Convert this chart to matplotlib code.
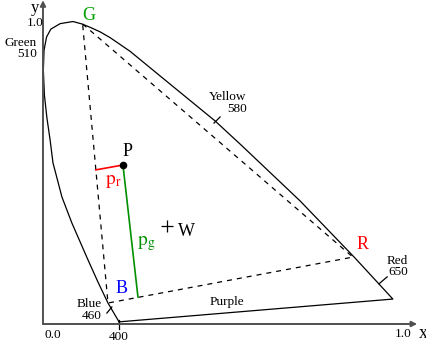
import matplotlib
matplotlib.use('Agg')
import matplotlib.pyplot as plt

plt.rcParams['font.family'] = ['Liberation Serif', 'DejaVu Serif']
plt.rcParams['mathtext.fontset'] = 'stix'

# spectral locus (schematic), from 400 nm round to the red end
locus_x = [0.213, 0.182, 0.154, 0.126, 0.081, 0.053, 0.028, 0.020, 0.011, 0.004,
           0.001, 0.003, 0.010, 0.022, 0.048, 0.084, 0.109, 0.132, 0.160, 0.188,
           0.244, 0.328, 0.482, 0.552, 0.720, 0.874, 0.980]
locus_y = [0.007, 0.069, 0.138, 0.211, 0.332, 0.418, 0.530, 0.605, 0.678, 0.753,
           0.836, 0.901, 0.944, 0.970, 0.988, 0.995, 0.987, 0.976, 0.961, 0.942,
           0.897, 0.816, 0.668, 0.592, 0.405, 0.217, 0.082]

# primaries triangle
prim_names = ['G', 'R', 'B']
prim_x = [0.111, 0.868, 0.182]
prim_y = [0.987, 0.220, 0.069]
prim_colors = ['#00a000', '#ff0000', '#0000ff']

# point P and its projections
p_x, p_y = 0.224, 0.523
pr_foot = (0.148, 0.507)
pg_foot = (0.266, 0.089)
white = (0.348, 0.322)

# wavelength labels: text, tick start, tick end, label position
wl_text = ['Blue\n460', 'Yellow\n580', 'Red\n650', 'Green\n510']
wl_tick0 = [(0.193, 0.056), (0.479, 0.661), (0.941, 0.132), None]
wl_tick1 = [(0.179, 0.036), (0.496, 0.681), (0.964, 0.155), None]
wl_pos = [(0.130, 0.046), (0.518, 0.727), (0.992, 0.188), (-0.062, 0.905)]


def main():
    fig = plt.figure(figsize=(4.27, 3.47), dpi=100)
    ax = fig.add_axes([0, 0, 1, 1])
    ax.set_xlim(-0.1204, 1.0756)
    ax.set_ylim(-0.0757, 1.0658)
    ax.axis('off')

    # axes with arrows
    axis_col = '#505050'
    ax.annotate('', xy=(1.048, 0), xytext=(0, 0),
                arrowprops=dict(arrowstyle='-|>', color=axis_col, lw=1.4,
                                mutation_scale=8, shrinkA=0, shrinkB=0))
    ax.annotate('', xy=(0, 1.065), xytext=(0, 0),
                arrowprops=dict(arrowstyle='-|>', color=axis_col, lw=1.4,
                                mutation_scale=8, shrinkA=0, shrinkB=0))

    # locus and purple line
    ax.plot(locus_x + locus_x[:1], locus_y + locus_y[:1], color='black', lw=0.9)
    ax.plot([locus_x[0], locus_x[0]], [0.013, -0.016], color='black', lw=0.9)

    # dashed triangle
    tx = prim_x + prim_x[:1]
    ty = prim_y + prim_y[:1]
    ax.plot(tx, ty, color='black', lw=0.9, linestyle=(0, (4, 4)))

    # P projections
    ax.plot([p_x, pr_foot[0]], [p_y, pr_foot[1]], color='#ff0000', lw=1.2)
    ax.plot([p_x, pg_foot[0]], [p_y, pg_foot[1]], color='#009000', lw=1.2)
    ax.plot([p_x], [p_y], 'o', color='black', ms=4.5)
    ax.plot([white[0]], [white[1]], '+', color='black', ms=8, mew=0.9)

    # labels
    big = 13
    ax.text(0.129, 1.016, 'G', color=prim_colors[0], fontsize=big, ha='center', va='center')
    ax.text(0.894, 0.260, 'R', color=prim_colors[1], fontsize=big, ha='center', va='center')
    ax.text(0.221, 0.118, 'B', color=prim_colors[2], fontsize=big, ha='center', va='center')
    ax.text(0.238, 0.566, 'P', color='black', fontsize=big, ha='center', va='center')
    ax.text(0.401, 0.303, 'W', color='black', fontsize=big, ha='center', va='center')
    ax.text(0.196, 0.470, r'$\mathrm{p}_\mathrm{r}$', color='#ff0000', fontsize=14,
            ha='center', va='center')
    ax.text(0.289, 0.266, r'$\mathrm{p}_\mathrm{g}$', color='#009000', fontsize=14,
            ha='center', va='center')

    for txt, t0, t1, pos in zip(wl_text, wl_tick0, wl_tick1, wl_pos):
        if t0 is not None:
            ax.plot([t0[0], t1[0]], [t0[1], t1[1]], color='black', lw=0.9)
        ax.text(pos[0], pos[1], txt, fontsize=9.5, ha='center', va='center',
                multialignment='right', linespacing=0.9)
    ax.text(0.515, 0.072, 'Purple', fontsize=9.5, ha='center', va='center')

    ax.text(0.028, -0.036, '0.0', fontsize=9.5, ha='center', va='center')
    ax.text(0.213, -0.043, '400', fontsize=9.5, ha='center', va='center')
    ax.text(1.008, -0.033, '1.0', fontsize=9.5, ha='center', va='center')
    ax.text(1.064, -0.030, 'x', fontsize=13, ha='center', va='center')
    ax.text(-0.022, 0.990, '1.0', fontsize=9.5, ha='center', va='center')
    ax.text(-0.022, 1.040, 'y', fontsize=12, ha='center', va='center')

    fig.savefig('out.png', dpi=100)


if __name__ == '__main__':
    main()
